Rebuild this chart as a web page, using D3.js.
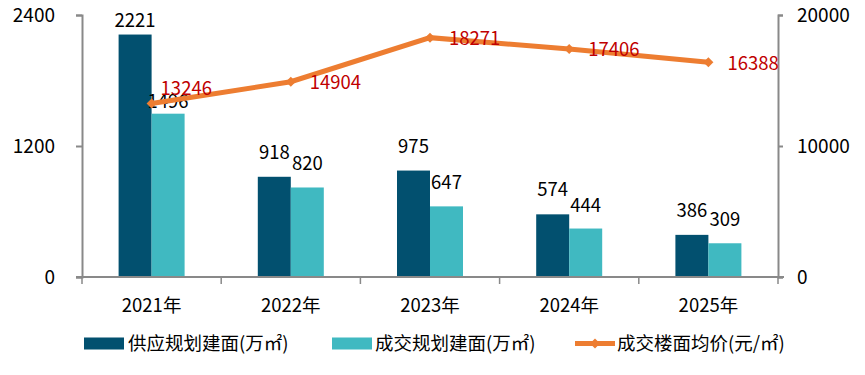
<!DOCTYPE html>
<html>
<head>
<meta charset="utf-8">
<script src="https://cdn.jsdelivr.net/npm/d3@7"></script>
<style>
  body { margin: 0; background: #fff; }
  text { font-family: "Noto Sans CJK SC", "Noto Sans", sans-serif; }
</style>
</head>
<body>
<svg id="chart" width="865" height="375"></svg>
<script>
// data
var years = ['2021年', '2022年', '2023年', '2024年', '2025年'];
var supply = [2221, 918, 975, 574, 386];
var deal = [1496, 820, 647, 444, 309];
var price = [13246, 14904, 18271, 17406, 16388];
var leftTicks = [0, 1200, 2400];
var rightTicks = [0, 10000, 20000];
var seriesNames = ['供应规划建面(万㎡)', '成交规划建面(万㎡)', '成交楼面均价(元/㎡)'];

var colSupply = '#02506f';
var colDeal = '#40b9c1';
var colLine = '#ed7d31';
var colLabel = '#c00000';
var axisCol = '#898989';

var svg = d3.select('#chart');

var plotL = 82, plotR = 778, plotT = 15, plotB = 277;
var barW = 33;

var x = d3.scaleBand().domain(years).range([plotL, plotR]);
var xs = d3.scaleBand().domain(['s', 'd']).range([0, barW * 2]);
var yL = d3.scaleLinear().domain([0, 2400]).range([plotB, plotT]);
var yR = d3.scaleLinear().domain([0, 20000]).range([plotB, plotT]);

// bars
var g = svg.append('g');
years.forEach(function(yr, i){
  var cx = x(yr) + x.bandwidth() / 2 - barW;
  // first year labels sit lower (as in the source)
  var offS = i === 0 ? 8 : 18, offD = i === 0 ? 6 : 17;
  g.append('rect')
    .attr('x', cx + xs('s')).attr('y', yL(supply[i]))
    .attr('width', xs.bandwidth()).attr('height', plotB - yL(supply[i]))
    .attr('fill', colSupply);
  g.append('rect')
    .attr('x', cx + xs('d')).attr('y', yL(deal[i]))
    .attr('width', xs.bandwidth()).attr('height', plotB - yL(deal[i]))
    .attr('fill', colDeal);
  g.append('text')
    .attr('x', cx + xs('s') + xs.bandwidth() / 2).attr('y', yL(supply[i]) - offS)
    .attr('text-anchor', 'middle').attr('font-size', 18.5).attr('fill', '#000')
    .text(supply[i]);
  g.append('text')
    .attr('x', cx + xs('d') + xs.bandwidth() / 2).attr('y', yL(deal[i]) - offD)
    .attr('text-anchor', 'middle').attr('font-size', 18.5).attr('fill', '#000')
    .text(deal[i]);
});

// axes
var xAxis = svg.append('g')
  .attr('transform', 'translate(0,' + plotB + ')')
  .call(d3.axisBottom(x).tickSize(0).tickPadding(22));
xAxis.select('.domain').attr('d', 'M' + (plotL - 6) + ',0H' + (plotR + 6)).attr('stroke', axisCol).attr('stroke-width', 2);
xAxis.selectAll('text').attr('font-size', 18.5).attr('fill', '#000');
d3.range(years.length + 1).forEach(function(i){
  var px = plotL + i * x.step();
  xAxis.append('line').attr('x1', px).attr('x2', px).attr('y1', 0).attr('y2', 7)
    .attr('stroke', axisCol).attr('stroke-width', 1.5);
});

var yAxisL = svg.append('g')
  .attr('transform', 'translate(' + plotL + ',0)')
  .call(d3.axisLeft(yL).tickValues(leftTicks).tickFormat(d3.format('d')).tickSize(6).tickPadding(21));
yAxisL.select('.domain').attr('stroke', axisCol).attr('stroke-width', 2);
yAxisL.selectAll('.tick line').attr('stroke', axisCol).attr('stroke-width', 2);
yAxisL.selectAll('text').attr('font-size', 19).attr('fill', '#000');

var yAxisR = svg.append('g')
  .attr('transform', 'translate(' + plotR + ',0)')
  .call(d3.axisRight(yR).tickValues(rightTicks).tickFormat(d3.format('d')).tickSize(5).tickPadding(14));
yAxisR.select('.domain').attr('stroke', axisCol).attr('stroke-width', 2);
yAxisR.selectAll('.tick line').attr('stroke', axisCol).attr('stroke-width', 2);
yAxisR.selectAll('text').attr('font-size', 19).attr('fill', '#000');

// price line
var cxOf = function(i){ return x(years[i]) + x.bandwidth() / 2; };
var line = d3.line().x(function(d, i){ return cxOf(i); }).y(function(d){ return yR(d); });
svg.append('path').datum(price).attr('d', line)
  .attr('fill', 'none').attr('stroke', colLine).attr('stroke-width', 5);
var diamond = d3.symbol().type(d3.symbolDiamond2 || d3.symbolSquare).size(64);
svg.selectAll('path.pt').data(price).join('path').attr('class', 'pt')
  .attr('d', diamond)
  .attr('transform', function(d, i){ return 'translate(' + cxOf(i) + ',' + yR(d) + ')'; })
  .attr('fill', colLine);
svg.selectAll('text.pl').data(price).join('text').attr('class', 'pl')
  .attr('x', function(d, i){ return cxOf(i) + (i === 0 ? 9 : 19); })
  .attr('y', function(d, i){ return yR(d) + (i === 0 ? -8.5 : 7.5); })
  .attr('font-size', 18.5).attr('fill', colLabel)
  .text(function(d){ return d; });

// legend
var lg = svg.append('g').attr('transform', 'translate(0,343.5)');
lg.append('rect').attr('x', 84).attr('y', -6).attr('width', 40).attr('height', 12).attr('fill', colSupply);
lg.append('text').attr('x', 128).attr('y', 6.5).attr('font-size', 18.5).text(seriesNames[0]);
lg.append('rect').attr('x', 332).attr('y', -6).attr('width', 40).attr('height', 12).attr('fill', colDeal);
lg.append('text').attr('x', 375).attr('y', 6.5).attr('font-size', 18.5).text(seriesNames[1]);
lg.append('line').attr('x1', 575).attr('x2', 615).attr('y1', 0).attr('y2', 0).attr('stroke', colLine).attr('stroke-width', 5);
lg.append('path').attr('d', diamond).attr('transform', 'translate(595,0)').attr('fill', colLine);
lg.append('text').attr('x', 617).attr('y', 6.5).attr('font-size', 18.5).text(seriesNames[2]);
</script>
</body>
</html>
